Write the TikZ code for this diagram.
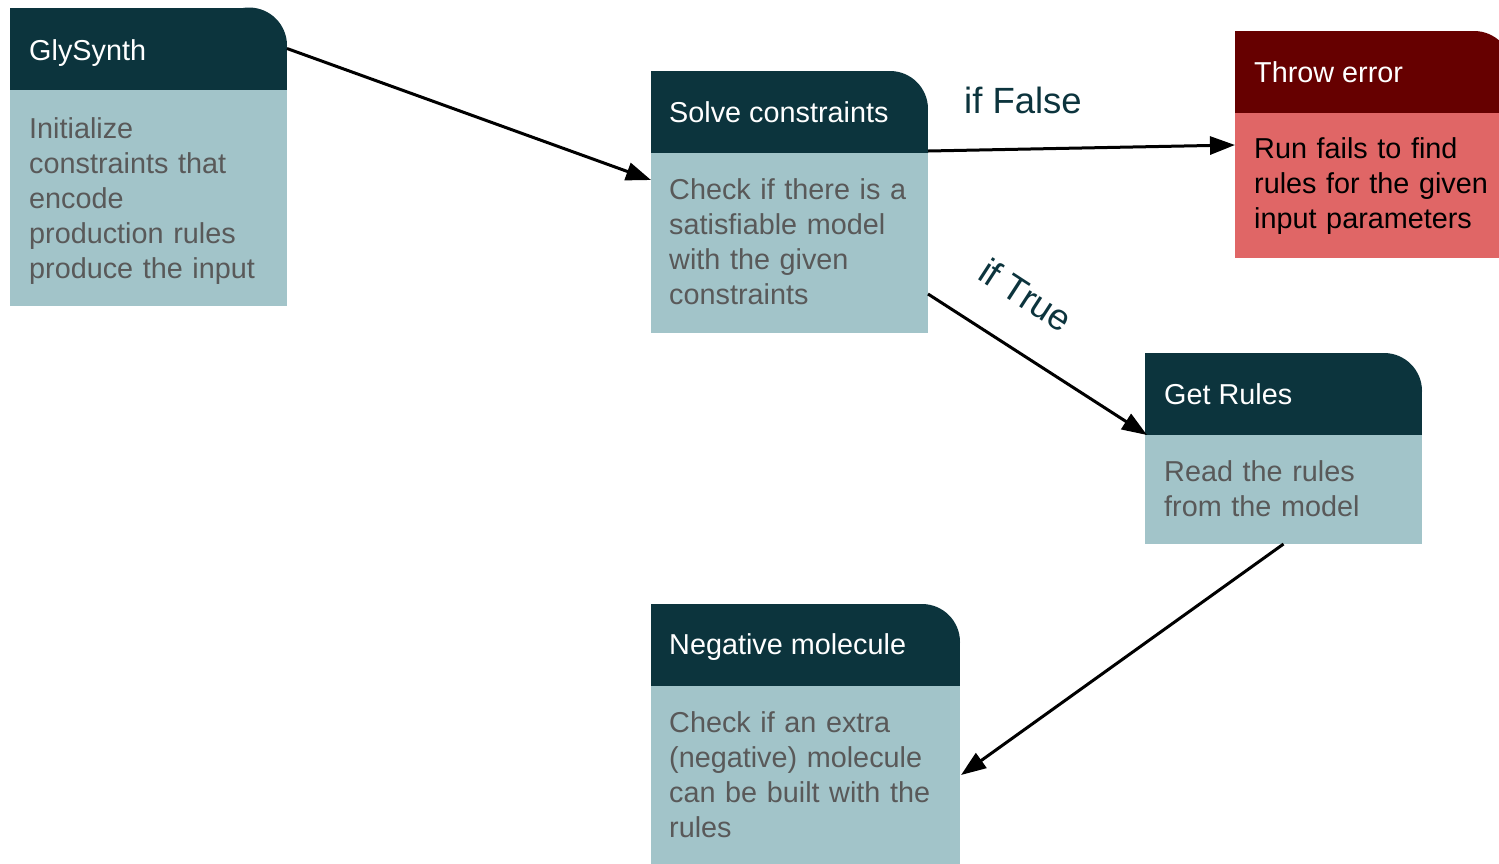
\documentclass[tikz,border=0pt]{standalone}
\usepackage{fontspec}
\setmainfont{Liberation Sans}
\usetikzlibrary{arrows.meta}

\definecolor{hdrteal}{HTML}{0C343D}
\definecolor{bodyteal}{HTML}{A2C4C9}
\definecolor{hdrred}{HTML}{660000}
\definecolor{bodyred}{HTML}{E06666}
\definecolor{bodytext}{HTML}{595959}

\tikzset{
  boxpart/.style={inner sep=0pt, outer sep=0pt, minimum width=277pt, anchor=north west, draw=none},
  hdrtext/.style={inner sep=0pt, anchor=base west, text=white, font=\fontsize{28.8}{35}\selectfont},
  bodytxt/.style={inner sep=0pt, anchor=north west, align=left, text width=250pt, text=bodytext, font=\fontsize{28.8}{35}\selectfont},
  flow/.style={line width=3pt, -{Triangle[length=25pt,width=18pt]}},
  branchlabel/.style={inner sep=0pt, text=hdrteal, font=\fontsize{36.5}{40}\selectfont},
}

% header with only its top-right corner rounded
\newcommand{\cardhead}[2]{%
  \fill[#2] (#1.south west) rectangle ([xshift=-38pt]#1.north east);
  \fill[#2] (#1.south west) rectangle ([yshift=-38pt]#1.north east);
  \fill[#2] ([xshift=-38pt,yshift=-38pt]#1.north east) circle[radius=38pt];
}

\begin{document}
\begin{tikzpicture}[x=1pt,y=-1pt]
\path[use as bounding box, clip] (0,0) rectangle (1499,863);

% GlySynth
\node[boxpart, minimum height=82pt] (g-h) at (10,7.5) {};
\cardhead{g-h}{hdrteal}
\node[boxpart, minimum height=216pt, fill=bodyteal] (g-b) at (10,89.5) {};
\node[hdrtext] (g-t) at (29,60) {GlySynth};
\node[bodytxt] (g-d) at (29,113.5) {\strut Initialize\\constraints that\\encode\\production rules\\produce the input};

% Solve constraints
\node[boxpart, minimum height=82pt] (s-h) at (651,71) {};
\cardhead{s-h}{hdrteal}
\node[boxpart, minimum height=180pt, fill=bodyteal] (s-b) at (651,153) {};
\node[hdrtext] (s-t) at (669,122) {Solve constraints};
\node[bodytxt] (s-d) at (669,175) {\strut Check if there is a\\satisfiable model\\with the given\\constraints};

% Throw error
\node[boxpart, minimum height=82pt] (t-h) at (1235,31) {};
\cardhead{t-h}{hdrred}
\node[boxpart, minimum height=145pt, fill=bodyred] (t-b) at (1235,113) {};
\node[hdrtext] (t-t) at (1254,82) {Throw error};
\node[bodytxt, text=black] (t-d) at (1254,134) {\strut Run fails to find\\rules for the given\\input parameters};

% Get Rules
\node[boxpart, minimum height=82pt] (r-h) at (1145,353) {};
\cardhead{r-h}{hdrteal}
\node[boxpart, minimum height=109pt, fill=bodyteal] (r-b) at (1145,435) {};
\node[hdrtext] (r-t) at (1164,404) {Get Rules};
\node[bodytxt] (r-d) at (1164,456.5) {\strut Read the rules\\from the model};

% Negative molecule
\node[boxpart, minimum width=309pt, minimum height=82pt] (n-h) at (651,604) {};
\cardhead{n-h}{hdrteal}
\node[boxpart, minimum width=309pt, minimum height=200pt, fill=bodyteal] (n-b) at (651,686) {};
\node[hdrtext] (n-t) at (669,654) {Negative molecule};
\node[bodytxt, text width=280pt] (n-d) at (669,707.5) {\strut Check if an extra\\(negative) molecule\\can be built with the\\rules};

% connectors
\draw[flow] (g-h.east) -- ([yshift=-27pt]s-b.north west);
\draw[flow] ([yshift=2pt]s-b.north east) -- ([yshift=-32pt]t-b.north west);
\draw[flow] ([yshift=39pt]s-b.south east) -- ([xshift=2pt]r-h.south west);
\draw[flow] (r-b.south) -- ([xshift=1pt,yshift=-89pt]n-b.north east);

% branch labels
\node[branchlabel, anchor=base] (lf) at (1023,113) {if False};
\node[branchlabel, rotate=-33] (lt) at (1026,295) {if True};
\end{tikzpicture}
\end{document}
